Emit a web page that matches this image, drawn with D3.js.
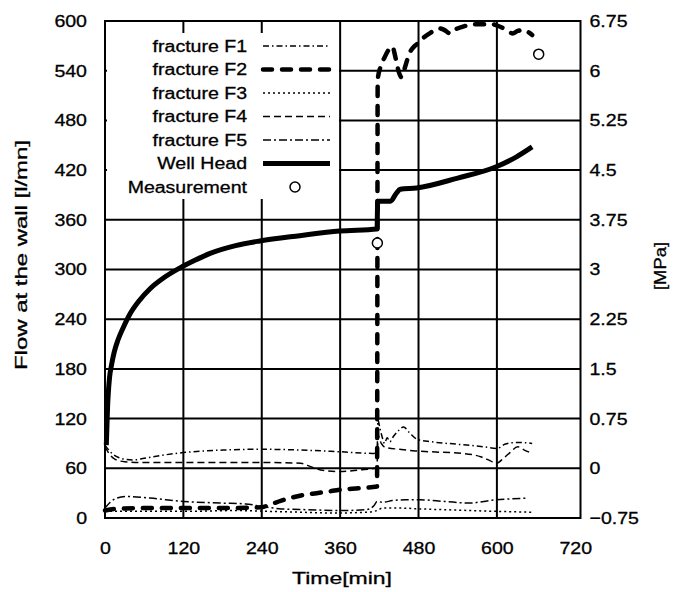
<!DOCTYPE html>
<html><head><meta charset="utf-8">
<script src="https://cdn.jsdelivr.net/npm/d3@7"></script>
<style>
body{margin:0;background:#fff}
text{font-family:"Liberation Sans",Arial,sans-serif;fill:#000;stroke:#000;stroke-width:0.3px}
</style>
</head><body>
<svg id="c" width="685" height="592"></svg>
<script>
// ---------- data ----------
const timeTicks = [0,120,240,360,480,600,720];
const flowTicks = [0,60,120,180,240,300,360,420,480,540,600];
const pressureTicks = [-0.75,0,0.75,1.5,2.25,3,3.75,4.5,5.25,6,6.75];
const pressureLabels = ["\u22120.75","0","0.75","1.5","2.25","3","3.75","4.5","5.25","6","6.75"];
const seriesNames = ["fracture F1","fracture F2","fracture F3","fracture F4","fracture F5","Well Head","Measurement"];

// flow at the wall [l/mn] vs time [min]
const f1 = [[0,88],[8,80],[18,74],[30,71],[43,70],[60,72],[90,76],[120,79],[180,82],[237,83],[300,82],[359,80],[410,78],[416.5,79],[418,118],[421,108],[425,96],[428,90],[432,97],[436,92],[442,99],[450,106],[457,110],[466,103],[478,95],[500,92],[540,89],[580,86],[600,84],[612,89],[625,91],[640,91],[654,90]];
const f2 = [[0,9],[15,11],[60,12],[120,12],[180,12],[240,13],[252,16],[270,21],[288,25],[306,28],[324,30],[342,32],[359,34],[390,36],[416.5,38],[417.5,529],[422,545],[428,556],[435,566],[440,569],[445,555],[450,538],[454,532],[460,546],[466,561],[472,568],[479,573],[488,580],[497,585],[512,591],[520,589],[528,585],[537,590],[547,593],[569,596],[593,596],[605,593],[615,589],[624,585],[632,588],[639,589],[647,587],[654,583]];
const f3 = [[0,8],[40,8],[120,8],[200,9],[250,8],[300,7],[350,6],[400,7],[416.5,9],[425,12],[450,12],[482,11],[520,10],[560,9],[600,8],[655,7]];
const f4 = [[0,86],[6,78],[15,71],[30,68],[60,67],[150,67],[250,67],[300,66],[315,62],[330,58],[359,56],[390,58],[414,60],[416.5,62],[418,100],[423,90],[430,85],[450,83],[475,81],[497,80],[547,78],[575,74],[590,69],[599,66],[610,72],[620,79],[632,86],[642,82],[654,78]];
const f5 = [[0,12],[8,19],[18,24],[33,26],[69,24],[120,20],[180,18],[215,17],[240,14],[270,11],[310,10],[360,9],[400,10],[412,15],[416.5,20],[425,19],[440,21],[460,22],[482,22],[520,20],[558,18],[580,20],[599,22],[620,23],[645,24]];
// well head pressure [MPa] vs time [min]
const wellHead = [[2,0.35],[3,0.65],[4,0.94],[5,1.125],[7,1.375],[10,1.56],[14,1.75],[20,1.94],[28,2.125],[38,2.325],[52,2.525],[69,2.71],[90,2.875],[115,3.025],[140,3.15],[160,3.24],[200,3.36],[237,3.43],[298,3.51],[359,3.58],[416.5,3.61],[417.5,4.03],[437,4.03],[446,4.15],[452,4.21],[477,4.23],[540,4.38],[599,4.55],[630,4.70],[654,4.85]];
// measured flow [l/mn]
const measurement = [[417,332],[664,560]];

// ---------- chart ----------
const svg = d3.select("#c");
const x = d3.scaleLinear().domain([0,728]).range([105,580.5]);
const y = d3.scaleLinear().domain([0,600]).range([518,21]);
const yP = d3.scaleLinear().domain([-0.75,6.75]).range([518,21]);

function stretch(sel,k){
  sel.each(function(){
    const w=this.getComputedTextLength();
    d3.select(this).attr("textLength",w*k).attr("lengthAdjust","spacingAndGlyphs");
  });
}

// grid
const g = svg.append("g");
g.selectAll(".hg").data(flowTicks.filter(d=>d>0&&d<600)).enter().append("line")
  .attr("x1",x(0)).attr("x2",x(728)).attr("y1",d=>y(d)).attr("y2",d=>y(d))
  .attr("stroke","#000").attr("stroke-width",2);
g.selectAll(".vg").data(timeTicks.filter(d=>d>0&&d<720)).enter().append("line")
  .attr("y1",y(0)).attr("y2",y(600)).attr("x1",d=>x(d)).attr("x2",d=>x(d))
  .attr("stroke","#000").attr("stroke-width",2);

// legend background
svg.append("rect").attr("x",107).attr("y",33).attr("width",232).attr("height",166).attr("fill","#fff");

const styles = {
  f1:{w:1.5,dash:"6,3,1.5,3",cap:"butt"},
  f2:{w:4.5,dash:"9,10",cap:"round"},
  f3:{w:1.5,dash:"2,3",cap:"butt"},
  f4:{w:1.5,dash:"7,4",cap:"butt"},
  f5:{w:1.5,dash:"8,3,2,3",cap:"butt"},
  wh:{w:5,dash:null,cap:"butt"}
};

const lineFlow = d3.line().x(d=>x(d[0])).y(d=>y(d[1])).curve(d3.curveMonotoneX);
const lineP = d3.line().x(d=>x(d[0])).y(d=>yP(d[1])).curve(d3.curveMonotoneX);

function drawLine(data,gen,st){
  svg.append("path").attr("d",gen(data)).attr("fill","none").attr("stroke","#000")
    .attr("stroke-width",st.w).attr("stroke-dasharray",st.dash).attr("stroke-linecap",st.cap)
    .attr("stroke-linejoin","round");
}
drawLine(f1,lineFlow,styles.f1);
drawLine(f3,lineFlow,styles.f3);
drawLine(f4,lineFlow,styles.f4);
drawLine(f5,lineFlow,styles.f5);
drawLine(wellHead,lineP,styles.wh);
drawLine(f2,lineFlow,styles.f2);

svg.selectAll(".meas").data(measurement).enter().append("circle")
  .attr("cx",d=>x(d[0])).attr("cy",d=>y(d[1])).attr("r",5)
  .attr("fill","#fff").attr("stroke","#000").attr("stroke-width",1.5);

// frame
svg.append("rect").attr("x",x(0)).attr("y",y(600)).attr("width",x(728)-x(0)).attr("height",y(0)-y(600))
  .attr("fill","none").attr("stroke","#000").attr("stroke-width",2);

// legend
const legStyles=[styles.f1,styles.f2,styles.f3,styles.f4,styles.f5,styles.wh,null];
const leg = svg.append("g");
seriesNames.forEach((n,i)=>{
  const yy = 46 + i*23.5;
  const t = leg.append("text").attr("x",247).attr("y",yy).attr("dy","0.35em")
    .attr("text-anchor","end").attr("font-size",16).text(n);
  stretch(t,1.22);
  const st = legStyles[i];
  if(st){
    leg.append("line").attr("x1",263).attr("x2",330).attr("y1",yy).attr("y2",yy)
      .attr("stroke","#000").attr("stroke-width",st.w).attr("stroke-dasharray",st.dash)
      .attr("stroke-linecap",st.cap);
  } else {
    leg.append("circle").attr("cx",295).attr("cy",yy).attr("r",5)
      .attr("fill","#fff").attr("stroke","#000").attr("stroke-width",1.5);
  }
});

// axes
const axL = svg.append("g").attr("transform","translate(105,0)")
  .call(d3.axisLeft(y).tickValues(flowTicks).tickSize(0).tickPadding(18).tickFormat(d3.format("d")));
const axR = svg.append("g").attr("transform","translate(580.5,0)")
  .call(d3.axisRight(yP).tickValues(pressureTicks).tickSize(0).tickPadding(9).tickFormat((d,i)=>pressureLabels[i]));
const axB = svg.append("g").attr("transform","translate(0,518)")
  .call(d3.axisBottom(x).tickValues(timeTicks).tickSize(0).tickPadding(24).tickFormat(d3.format("d")));
[axL,axR,axB].forEach(a=>{
  a.select(".domain").remove();
  a.selectAll("text").attr("font-size",17).attr("font-family",null).style("fill","#000");
  a.attr("font-family",null);
  stretch(a.selectAll("text"),1.15);
});

// titles
svg.append("text").attr("transform","translate(27,255) rotate(-90)").attr("text-anchor","middle")
  .attr("font-size",16).attr("textLength",230).attr("lengthAdjust","spacingAndGlyphs")
  .text("Flow at the wall [l/mn]");
svg.append("text").attr("transform","translate(666,266) rotate(-90)").attr("text-anchor","middle")
  .attr("font-size",17).attr("textLength",48).attr("lengthAdjust","spacingAndGlyphs")
  .text("[MPa]");
svg.append("text").attr("x",342).attr("y",584).attr("text-anchor","middle")
  .attr("font-size",16).attr("textLength",100).attr("lengthAdjust","spacingAndGlyphs")
  .text("Time[min]");
</script>
</body></html>
